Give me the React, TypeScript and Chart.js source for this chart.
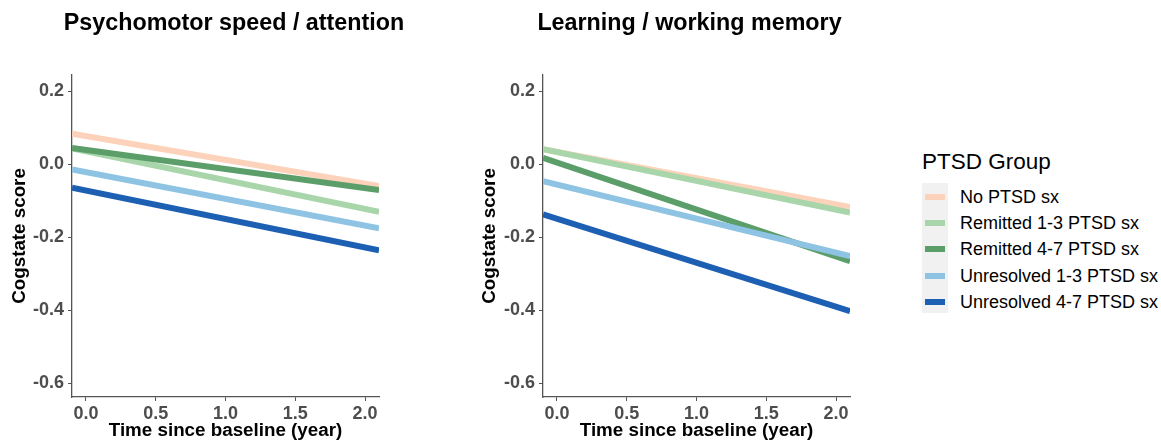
import React, { useEffect, useRef } from "react";
import { Chart, registerables } from "chart.js";

Chart.register(...registerables);

const FONT = "'Liberation Sans', Arial, Helvetica, sans-serif";

const groups = [
  "No PTSD sx",
  "Remitted 1-3 PTSD sx",
  "Remitted 4-7 PTSD sx",
  "Unresolved 1-3 PTSD sx",
  "Unresolved 4-7 PTSD sx",
];
const groupColors = ["#fcd3ba", "#a8d6aa", "#5c9e6a", "#8fc3e3", "#1d5fb3"];

// fitted line endpoints at the start and end of the time axis
const timeYears = [-0.1, 2.1];
const psychomotorValues = [
  [0.083, -0.06],
  [0.043, -0.131],
  [0.044, -0.071],
  [-0.015, -0.176],
  [-0.065, -0.236],
];
const learningValues = [
  [0.041, -0.118],
  [0.041, -0.133],
  [0.017, -0.266],
  [-0.047, -0.252],
  [-0.138, -0.403],
];

const xTicks = [0, 0.5, 1, 1.5, 2];
const yTicks = [-0.6, -0.4, -0.2, 0, 0.2];

type PanelProps = {
  title: string;
  values: number[][];
  left: number;
  width: number;
  axisLeft: number;
  axisRight: number;
};

function Panel({ title, values, left, width, axisLeft, axisRight }: PanelProps) {
  const ref = useRef<HTMLCanvasElement>(null);
  useEffect(() => {
    const tickFont = { family: FONT, size: 18, weight: "bold" as const };
    const axisTitleFont = { family: FONT, size: 18.8, weight: "bold" as const };
    const chart = new Chart(ref.current!, {
      type: "line",
      data: {
        datasets: groups.map((g, i) => ({
          label: g,
          data: timeYears.map((t, j) => ({ x: t, y: values[i][j] })),
          borderColor: groupColors[i],
          backgroundColor: groupColors[i],
          borderWidth: 6,
          pointRadius: 0,
          tension: 0,
          borderCapStyle: "butt" as const,
          order: groups.length - i,
        })),
      },
      options: {
        animation: false,
        responsive: false,
        maintainAspectRatio: false,
        layout: { padding: 0 },
        events: [],
        plugins: {
          legend: { display: false },
          tooltip: { enabled: false },
          title: {
            display: true,
            text: title,
            color: "#000",
            font: { family: FONT, size: 23.3, weight: "bold" },
            padding: { top: 10, bottom: 37 },
          },
        },
        scales: {
          x: {
            type: "linear",
            min: -0.1,
            max: 2.1,
            afterBuildTicks: (s: any) => {
              s.ticks = xTicks.map((v) => ({ value: v }));
            },
            afterFit: (s: any) => {
              s.height = 45;
            },
            ticks: {
              color: "#4d4d4d",
              font: tickFont,
              padding: 2,
              maxRotation: 0,
              autoSkip: false,
              callback: (v: any) => Number(v).toFixed(1),
            },
            grid: { display: true, drawOnChartArea: false, tickLength: 4, color: "#555" },
            border: { display: true, color: "#555", width: 1.3 },
            title: {
              display: true,
              text: "Time since baseline (year)",
              color: "#000",
              font: axisTitleFont,
              padding: { top: 0, bottom: 0 },
            },
          },
          y: {
            type: "linear",
            min: -0.638,
            max: 0.244,
            afterBuildTicks: (s: any) => {
              s.ticks = yTicks.map((v) => ({ value: v }));
            },
            afterFit: (s: any) => {
              s.width = axisLeft;
            },
            ticks: {
              color: "#4d4d4d",
              font: tickFont,
              padding: 4,
              autoSkip: false,
              callback: (v: any) => Number(v).toFixed(1),
            },
            grid: { display: true, drawOnChartArea: false, tickLength: 4, color: "#555" },
            border: { display: true, color: "#555", width: 1.3 },
            title: {
              display: true,
              text: "Cogstate score",
              color: "#000",
              font: axisTitleFont,
              padding: { top: 9, bottom: 0 },
            },
          },
          pad: {
            type: "linear",
            position: "right",
            display: true,
            ticks: { display: false },
            grid: { display: false },
            border: { display: false },
            afterFit: (s: any) => {
              s.width = axisRight;
            },
          },
        },
      } as any,
    });
    return () => chart.destroy();
  }, []);
  return (
    <canvas
      ref={ref}
      width={width}
      height={442}
      style={{ position: "absolute", left, top: 0, width, height: 442 }}
    />
  );
}

function Legend() {
  const rowCenters = [197, 223, 249, 276, 302];
  return (
    <div style={{ position: "absolute", left: 0, top: 0, fontFamily: FONT }}>
      <div
        style={{
          position: "absolute",
          left: 922,
          top: 148,
          fontSize: 22.5,
          lineHeight: "28px",
          whiteSpace: "nowrap",
          color: "#000",
        }}
      >
        PTSD Group
      </div>
      <div
        style={{
          position: "absolute",
          left: 922,
          top: 183,
          width: 26,
          height: 130,
          background: "#f1f1f1",
        }}
      />
      {groups.map((g, i) => (
        <React.Fragment key={g}>
          <div
            style={{
              position: "absolute",
              left: 925,
              top: rowCenters[i] - 2.75,
              width: 20,
              height: 5.5,
              background: groupColors[i],
            }}
          />
          <div
            style={{
              position: "absolute",
              left: 960,
              top: rowCenters[i] - 11,
              fontSize: 18,
              lineHeight: "22px",
              whiteSpace: "nowrap",
              color: "#000",
            }}
          >
            {g}
          </div>
        </React.Fragment>
      ))}
    </div>
  );
}

export default function App() {
  return (
    <div
      style={{
        position: "fixed",
        left: 0,
        top: 0,
        width: 1161,
        height: 442,
        background: "#fff",
        overflow: "hidden",
      }}
    >
      <Panel
        title="Psychomotor speed / attention"
        values={psychomotorValues}
        left={0}
        width={468}
        axisLeft={72}
        axisRight={89}
      />
      <Panel
        title="Learning / working memory"
        values={learningValues}
        left={470}
        width={439}
        axisLeft={73}
        axisRight={59}
      />
      <Legend />
    </div>
  );
}
